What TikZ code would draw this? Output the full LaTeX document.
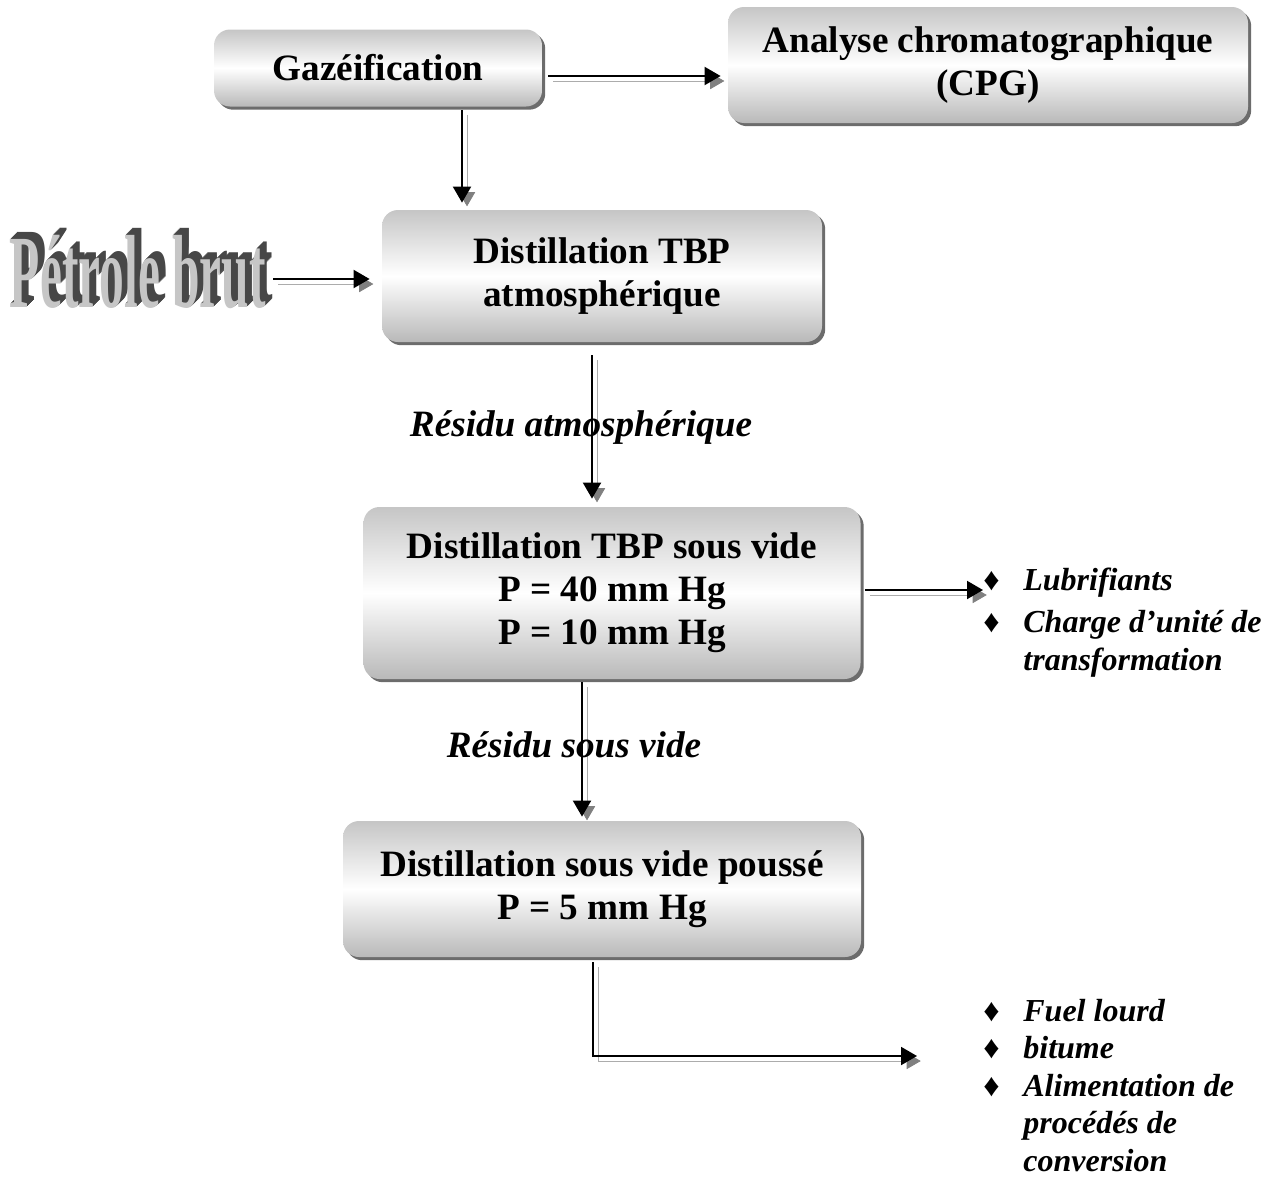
\documentclass[tikz,border=0pt]{standalone}
\usepackage{fontspec}
\setmainfont{Liberation Serif}
\usetikzlibrary{shadows,arrows.meta}

\newcommand{\boxfont}{\bfseries\fontsize{18.6}{21.5}\selectfont}
\newcommand{\listfont}{\bfseries\itshape\fontsize{16}{18.8}\selectfont}
\newcommand{\crudefont}{\bfseries\fontsize{52}{52}\selectfont}
\newcommand{\crudetext}{\scalebox{0.475}[1]{Pétrole brut}}
\newcommand{\extrude}[1]{\rlap{\kern#1\raisebox{#1}{\crudetext}}}
\newcommand{\crudeword}{{\color{black!72}\extrude{3.5pt}\extrude{3pt}\extrude{2.5pt}%
  \extrude{2pt}\extrude{1.5pt}\extrude{1pt}\extrude{0.5pt}}{\color{gray!45}\crudetext}}

\tikzset{
  stage/.style={rounded corners=8pt, top color=gray!45, bottom color=gray!55,
    middle color=white, align=center, inner sep=0pt, font=\boxfont,
    drop shadow={shadow xshift=1.6pt, shadow yshift=-1.6pt, fill=gray!85!black, opacity=1}},
  flow/.style={draw=black, line width=1pt, -{Triangle[length=8pt,width=9pt]},
    preaction={draw=gray!65, -{Triangle[length=8pt,width=9pt,color=gray]},
      transform canvas={shift={(2.5pt,-2.5pt)}}}},
  stream/.style={font=\bfseries\itshape\fontsize{18.6}{21.5}\selectfont, inner sep=0pt},
  outlist/.style={font=\listfont, inner sep=0pt, anchor=base west}
}

\begin{document}
\begin{tikzpicture}[x=0.5pt,y=-0.5pt]
\useasboundingbox (0,0) rectangle (1273,1178);

%%% Process stages
\node[stage, minimum width=164pt, minimum height=38.5pt] (gaz) at (378,68) {Gazéification};
\node[stage, minimum width=260pt, minimum height=58pt] (cpg) at (988,65) {Analyse chromatographique\\(CPG)};
\node[stage, minimum width=220pt, minimum height=66pt] (atm) at (602,276) {Distillation TBP\\atmosphérique};
\node[stage, minimum width=248.5pt, minimum height=86pt] (vide) at (612,593) {Distillation TBP sous vide\\P = 40 mm Hg\\P = 10 mm Hg};
\node[stage, minimum width=259pt, minimum height=68pt] (pousse) at (602,889) {Distillation sous vide poussé\\P = 5 mm Hg};

%%% Crude oil title, extruded letters
\node[font=\crudefont, inner sep=0pt, anchor=base east] (petrole) at (266,307) {\crudeword};

%%% Products
\node[outlist] (lub) at (983,590) {\begin{tabular}[t]{@{}p{20pt}@{}l@{}}
  ♦ & Lubrifiants\\[2.5pt]
  ♦ & Charge d’unité de\\
    & transformation
\end{tabular}};
\node[outlist] (fuel) at (983,1021) {\begin{tabular}[t]{@{}p{20pt}@{}l@{}}
  ♦ & Fuel lourd\\
  ♦ & bitume\\
  ♦ & Alimentation de\\
    & procédés de\\
    & conversion
\end{tabular}};
\coordinate (outlet) at (917,1056);

%%% Connectors
\draw[flow] ([xshift=3pt,yshift=-4pt]gaz.east) -- ([xshift=-3.5pt,yshift=-4pt]gaz.east -| cpg.west);
\draw[flow] ([xshift=42pt,yshift=-1.5pt]gaz.south) -- ([xshift=42pt,yshift=3.5pt]gaz.south |- atm.north);
\draw[flow] ([xshift=3.5pt,yshift=-1.5pt]atm.west -| petrole.east) -- ([xshift=-6pt,yshift=-1.5pt]atm.west);
\draw[flow] ([xshift=-5pt,yshift=-6.5pt]atm.south) -- ([xshift=-5pt,yshift=4pt]atm.south |- vide.north);
\draw[flow] ([xshift=-15pt,yshift=-1.5pt]vide.south) -- ([xshift=-15pt,yshift=2pt]vide.south |- pousse.north);
\draw[flow] ([xshift=2pt,yshift=1.5pt]vide.east) -- ([yshift=1.5pt]vide.east -| lub.west);
\draw[flow] ([xshift=-4.5pt,yshift=-2.5pt]pousse.south) |- (outlet);

%%% Stream labels
\node[stream] (ratm) at (581,428) {Résidu atmosphérique};
\node[stream] (rvide) at (574,745) {Résidu sous vide};
\end{tikzpicture}
\end{document}
